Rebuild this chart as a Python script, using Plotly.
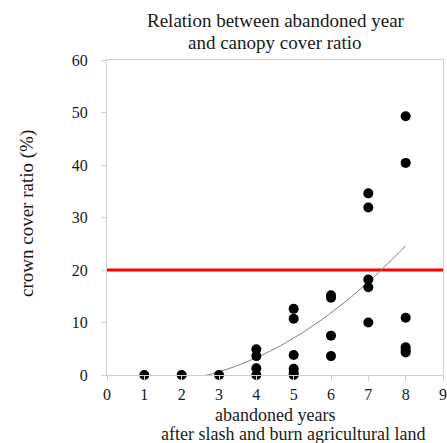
import numpy as np
import plotly.graph_objects as go

# abandoned years (x) and crown cover ratio (%) (y)
years = [1, 2, 3,
         4, 4, 4, 4,
         5, 5, 5, 5, 5, 5,
         6, 6, 6, 6,
         7, 7, 7, 7, 7,
         8, 8, 8, 8, 8, 8]
cover = [0, 0, 0,
         4.9, 3.6, 1.3, 0,
         12.6, 10.7, 3.8, 1.2, 0.4, 0,
         15.2, 14.7, 7.5, 3.6,
         34.6, 31.9, 18.2, 16.7, 10.0,
         49.3, 40.4, 10.9, 5.3, 4.7, 4.3]
threshold = 20
# polynomial (order 2) trendline coefficients, as shown in the chart
trend_coef = [0.533, -1.058, -1.027]
x_ticks = list(range(0, 10))
y_ticks = list(range(0, 70, 10))

xs = np.linspace(min(years), max(years), 120)
ys = np.polyval(trend_coef, xs)

serif = "Liberation Serif, Times New Roman, serif"
axcol = "#d0d0d0"
txt = "#1a1a1a"

fig = go.Figure()
fig.add_trace(go.Scatter(x=[0, 9], y=[threshold, threshold], mode="lines",
                         line=dict(color="#ff0000", width=3), hoverinfo="skip"))
fig.add_trace(go.Scatter(x=xs, y=ys, mode="lines",
                         line=dict(color="#808080", width=1)))
fig.add_trace(go.Scatter(x=years, y=cover, mode="markers", cliponaxis=False,
                         marker=dict(color="black", size=10)))

W, H = 447, 443
L, T = 107, 60
R = W - 443
B = H - 375
pw, ph = W - L - R, H - T - B
px = lambda p: (p - L) / pw
py = lambda p: (H - B - p) / ph

def ann(text, x, y, size, angle=0):
    fig.add_annotation(text=text, xref="paper", yref="paper", x=px(x), y=py(y),
                       xanchor="center", yanchor="middle", showarrow=False,
                       textangle=angle, font=dict(family=serif, size=size, color=txt))

ann("Relation between abandoned year", 276, 20, 19)
ann("and canopy cover ratio", 275, 43, 19)
ann("abandoned years", 275, 415, 18)
ann("after slash and burn agricultural land", 293, 434, 18)
ann("crown cover ratio (%)", 27, 214, 19, angle=-90)

fig.update_layout(
    width=W, height=H,
    margin=dict(l=L, r=R, t=T, b=B, autoexpand=False),
    paper_bgcolor="white", plot_bgcolor="white",
    showlegend=False,
    font=dict(family=serif, color=txt, size=16),
)
fig.update_xaxes(range=[0, 9], tickvals=x_ticks, showgrid=False, zeroline=False,
                 showline=True, linecolor=axcol, linewidth=1, mirror=True,
                 ticks="outside", ticklen=5, tickcolor=axcol, automargin=False,
                 ticklabeloverflow="allow",
                 tickfont=dict(family=serif, size=16, color=txt))
fig.update_yaxes(range=[0, 60], tickvals=y_ticks, showgrid=False, zeroline=False,
                 showline=True, linecolor=axcol, linewidth=1, mirror=True,
                 ticks="outside", ticklen=5, tickcolor=axcol, automargin=False,
                 ticklabelstandoff=10,
                 tickfont=dict(family=serif, size=16, color=txt))

fig.write_html("out.html",
               config={"displayModeBar": False},
               post_script="document.body.style.margin='0';"
                           "document.body.style.overflow='hidden';")
